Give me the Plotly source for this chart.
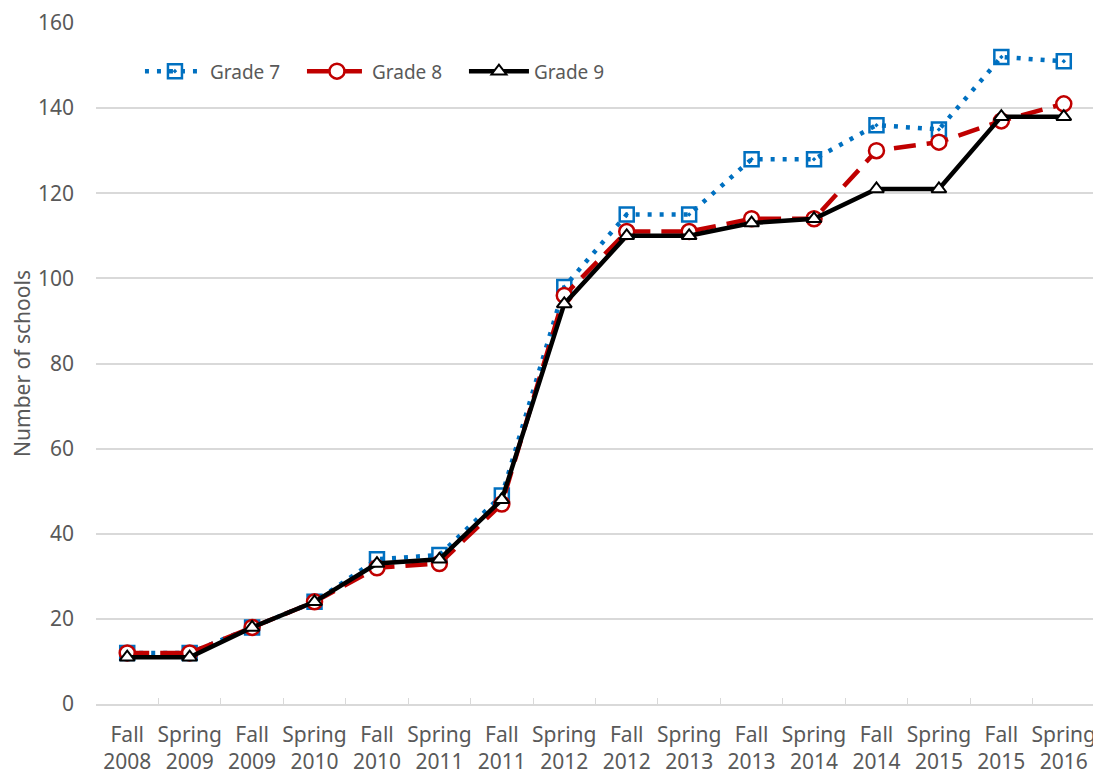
import plotly.graph_objects as go

# categories along the x axis
terms = ["Fall<br>2008", "Spring<br>2009", "Fall<br>2009", "Spring<br>2010",
         "Fall<br>2010", "Spring<br>2011", "Fall<br>2011", "Spring<br>2012",
         "Fall<br>2012", "Spring<br>2013", "Fall<br>2013", "Spring<br>2014",
         "Fall<br>2014", "Spring<br>2015", "Fall<br>2015", "Spring<br>2016"]

grade7 = [12, 12, 18, 24, 34, 35, 49, 98, 115, 115, 128, 128, 136, 135, 152, 151]
grade8 = [12, 12, 18, 24, 32, 33, 47, 96, 111, 111, 114, 114, 130, 132, 137, 141]
grade9 = [11, 11, 18, 24, 33, 34, 48, 94, 110, 110, 113, 114, 121, 121, 138, 138]

FONT = "Noto Sans, sans-serif"
GRAY = "#595959"

fig = go.Figure()

fig.add_trace(go.Scatter(
    x=terms, y=grade7, name="Grade 7", mode="lines+markers",
    line=dict(color="#0070C0", width=4.5, dash="4px,8px"),
    marker=dict(symbol="square-open-dot", size=14, color="#0070C0",
                line=dict(width=2.5, color="#0070C0")),
))
fig.add_trace(go.Scatter(
    x=terms, y=grade8, name="Grade 8", mode="lines+markers",
    line=dict(color="#C00000", width=4.5, dash="22px,11px"),
    marker=dict(symbol="circle", size=15, color="white",
                line=dict(width=2.5, color="#C00000")),
))
fig.add_trace(go.Scatter(
    x=terms, y=grade9, name="Grade 9", mode="lines+markers",
    line=dict(color="black", width=4.5),
    marker=dict(symbol="triangle-up", size=13, color="white",
                line=dict(width=2, color="black")),
))

fig.update_layout(
    width=1101, height=773,
    paper_bgcolor="white", plot_bgcolor="white",
    margin=dict(l=88, r=14, t=15, b=77),
    font=dict(family=FONT, size=19, color=GRAY),
    legend=dict(orientation="h", x=0.044, y=0.957, xanchor="left", yanchor="top",
                bgcolor="rgba(0,0,0,0)", font=dict(size=19, color=GRAY),
                entrywidth=87, entrywidthmode="pixels", itemwidth=60),
    showlegend=True,
)

fig.update_xaxes(
    type="category", range=[-0.5, 15.5], showgrid=False, zeroline=False,
    automargin=False, showline=True, linecolor="#d9d9d9", linewidth=1.5,
    ticks="inside", tickson="boundaries", ticklen=6, tickcolor="#d9d9d9",
    tickangle=0, ticklabelstandoff=11, tickfont=dict(size=21, color=GRAY),
)
fig.update_yaxes(
    range=[0, 160], dtick=20, showgrid=True, gridcolor="#d9d9d9", gridwidth=1.5,
    zeroline=False, showline=False, ticks="", automargin=False,
    ticklabelstandoff=21, tickfont=dict(size=21, color=GRAY),
    title=dict(text="Number of schools", font=dict(size=21, color=GRAY), standoff=6),
)

fig.write_html("out.html")
